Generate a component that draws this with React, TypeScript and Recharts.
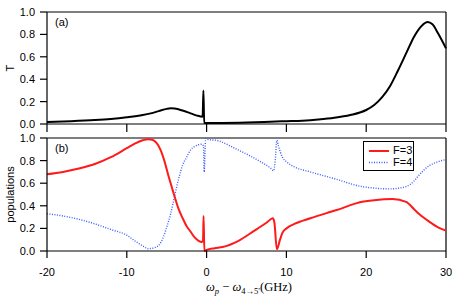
import { LineChart, Line, XAxis, YAxis, ReferenceLine } from "recharts";

// panel (a): transmission T
const tX = [-20, -17, -14, -12, -10, -8, -7, -6, -5, -4.5, -4, -3, -2, -1.2, -0.5, -0.4, -0.3, 0, 2, 5, 8, 10, 12, 14, 16, 18, 20, 21, 22, 23, 24, 25, 26, 27, 27.7, 28.3, 29, 30];
const tY = [0.018, 0.025, 0.035, 0.045, 0.06, 0.08, 0.095, 0.115, 0.135, 0.14, 0.138, 0.12, 0.095, 0.075, 0.065, 0.3, 0.01, 0.01, 0.01, 0.013, 0.02, 0.025, 0.03, 0.04, 0.055, 0.08, 0.125, 0.17, 0.24, 0.34, 0.48, 0.63, 0.78, 0.88, 0.91, 0.89, 0.81, 0.675];

// panel (b): populations
const f3X = [-20, -18, -16, -14, -12, -10, -9, -8, -7.3, -6.8, -6.3, -5.8, -5.3, -4.8, -4.3, -4, -3.5, -3, -2.5, -2, -1.5, -1, -0.6, -0.45, -0.38, -0.28, 0, 1, 2, 4, 6, 7.5, 8.3, 8.5, 8.8, 9.2, 9.5, 10, 11, 13, 16.2, 19.5, 21, 23.3, 25, 26, 26.6, 27.9, 29, 30];
const f3Y = [0.68, 0.7, 0.73, 0.77, 0.83, 0.91, 0.95, 0.98, 0.99, 0.985, 0.96, 0.9, 0.8, 0.67, 0.55, 0.48, 0.37, 0.29, 0.22, 0.17, 0.12, 0.09, 0.08, 0.09, 0.31, 0.0, 0.01, 0.025, 0.035, 0.09, 0.18, 0.25, 0.29, 0.25, 0.015, 0.1, 0.16, 0.2, 0.24, 0.29, 0.36, 0.435, 0.45, 0.46, 0.435, 0.37, 0.33, 0.26, 0.21, 0.18];
const f4X = [-20, -18, -16, -14, -12, -10, -9, -8, -7.3, -6.5, -6, -5.5, -5, -4.5, -4, -3.5, -3, -2.5, -2, -1.5, -1, -0.6, -0.4, -0.3, -0.12, 0, 1.5, 3.5, 5.5, 7, 8, 8.4, 8.6, 8.8, 9, 9.5, 10, 11, 13, 16, 19.5, 23, 25, 26, 26.6, 27.9, 29, 30];
const f4Y = [0.33, 0.31, 0.28, 0.24, 0.19, 0.14, 0.09, 0.045, 0.02, 0.03, 0.05, 0.11, 0.21, 0.33, 0.49, 0.64, 0.76, 0.83, 0.895, 0.925, 0.94, 0.945, 0.93, 0.7, 0.995, 0.99, 0.975, 0.91, 0.84, 0.78, 0.735, 0.71, 0.8, 0.98, 0.93, 0.83, 0.79, 0.745, 0.7, 0.64, 0.57, 0.55, 0.57, 0.62, 0.67, 0.755, 0.79, 0.81];

const xTicks = [-20, -10, 0, 10, 20, 30];
const yTicks = [0, 0.2, 0.4, 0.6, 0.8, 1.0];

const tData = tX.map((x, i) => ({ x, v: tY[i] }));
const f3Data = f3X.map((x, i) => ({ x, v: f3Y[i] }));
const f4Data = f4X.map((x, i) => ({ x, v: f4Y[i] }));

const FONT = "'Liberation Sans', Arial, sans-serif";
const tickStyle = { fontSize: 11, fill: "#000", fontFamily: FONT };
const axisLine = { stroke: "#000", strokeWidth: 1.2 };

function YTitle({ viewBox, text }: any) {
  const cy = viewBox.y + viewBox.height / 2;
  return (
    <text
      x={14}
      y={cy}
      transform={`rotate(-90, 14, ${cy})`}
      textAnchor="middle"
      fontSize={11}
      fontFamily={FONT}
      fill="#000"
    >
      {text}
    </text>
  );
}

function XTitle() {
  return (
    <text x={249} y={165} textAnchor="middle" fontSize={12.5} fontFamily="'Liberation Serif', serif" fill="#000">
      <tspan fontStyle="italic">ω</tspan>
      <tspan fontStyle="italic" fontSize={8.5} dy={2.5}>p</tspan>
      <tspan dy={-2.5}> − </tspan>
      <tspan fontStyle="italic">ω</tspan>
      <tspan fontSize={8.5} dy={2.5}>4→5′</tspan>
      <tspan dy={-2.5}>(GHz)</tspan>
    </text>
  );
}

export default function App() {
  return (
    <div style={{ position: "absolute", left: 0, top: 0, width: 457, height: 296, background: "#fff" }}>
      <div style={{ position: "absolute", left: 0, top: 0 }}>
        <LineChart width={457} height={140} margin={{ top: 12, right: 11, left: 0, bottom: 0 }}>
          <XAxis
            dataKey="x"
            type="number"
            domain={[-20, 30]}
            ticks={xTicks}
            tickFormatter={() => ""}
            tickSize={8}
            height={16}
            axisLine={axisLine}
            tickLine={axisLine}
          />
          <YAxis
            type="number"
            domain={[0, 1]}
            ticks={yTicks}
            width={47}
            tickSize={7}
            tickMargin={5}
            tick={tickStyle}
            tickFormatter={(v: number) => v.toFixed(1)}
            axisLine={axisLine}
            tickLine={axisLine}
            label={<YTitle text="T" />}
          />
          <ReferenceLine y={1} stroke="#000" strokeWidth={1.2} />
          <ReferenceLine x={30} stroke="#000" strokeWidth={1.2} />
          <Line
            data={tData}
            dataKey="v"
            type="monotone"
            stroke="#000"
            strokeWidth={2}
            dot={false}
            isAnimationActive={false}
          />
        </LineChart>
      </div>
      <div style={{ position: "absolute", left: 0, top: 126 }}>
        <LineChart width={457} height={170} margin={{ top: 12, right: 11, left: 0, bottom: 0 }}>
          <XAxis
            dataKey="x"
            type="number"
            domain={[-20, 30]}
            ticks={xTicks}
            tickSize={7}
            tickMargin={10}
            height={45}
            tick={tickStyle}
            axisLine={axisLine}
            tickLine={axisLine}
            label={<XTitle />}
          />
          <YAxis
            type="number"
            domain={[0, 1]}
            ticks={yTicks}
            width={47}
            tickSize={7}
            tickMargin={5}
            tick={tickStyle}
            tickFormatter={(v: number) => v.toFixed(1)}
            axisLine={axisLine}
            tickLine={axisLine}
            label={<YTitle text="populations" />}
          />
          <ReferenceLine y={1} stroke="#000" strokeWidth={1.2} />
          <ReferenceLine x={30} stroke="#000" strokeWidth={1.2} />
          <Line
            data={f4Data}
            dataKey="v"
            type="monotone"
            stroke="#3b5bff"
            strokeWidth={1.4}
            strokeDasharray="1 1.5"
            dot={false}
            isAnimationActive={false}
          />
          <Line
            data={f3Data}
            dataKey="v"
            type="monotone"
            stroke="#ff1a1a"
            strokeWidth={2}
            dot={false}
            isAnimationActive={false}
          />
        </LineChart>
      </div>
      <div style={{ position: "absolute", left: 55, top: 16, fontSize: 11, fontFamily: FONT }}>(a)</div>
      <div style={{ position: "absolute", left: 55, top: 142, fontSize: 11, fontFamily: FONT }}>(b)</div>
      <div
        style={{
          position: "absolute",
          left: 363,
          top: 141,
          width: 49,
          height: 28,
          border: "1.5px solid #000",
          background: "#fff",
          fontSize: 11,
          fontFamily: FONT,
        }}
      >
        <svg width={30} height={28} style={{ position: "absolute", left: 0, top: 0 }}>
          <line x1={5} x2={25} y1={9} y2={9} stroke="#ff1a1a" strokeWidth={2} />
          <line x1={5} x2={25} y1={20.5} y2={20.5} stroke="#3b5bff" strokeWidth={1.4} strokeDasharray="1 1.5" />
        </svg>
        <div style={{ position: "absolute", left: 29, top: 2, lineHeight: "13px" }}>F=3</div>
        <div style={{ position: "absolute", left: 29, top: 14, lineHeight: "13px" }}>F=4</div>
      </div>
    </div>
  );
}
